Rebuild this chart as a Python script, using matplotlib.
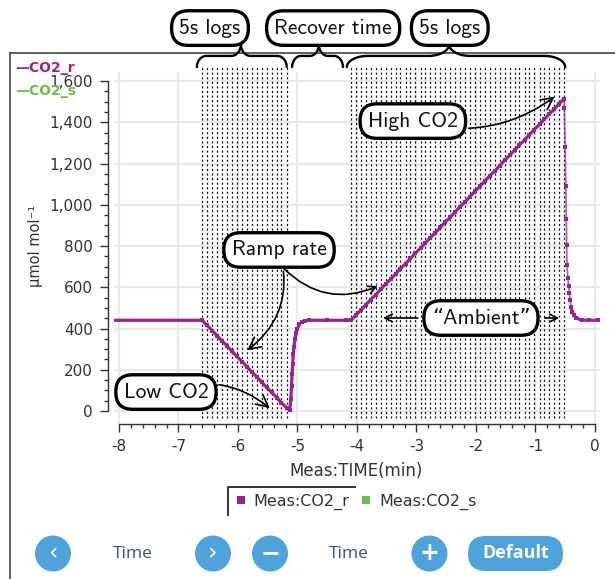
import numpy as np
import matplotlib
matplotlib.use("Agg")
import matplotlib.pyplot as plt
from matplotlib.patches import Circle, FancyBboxPatch, PathPatch
from matplotlib.path import Path
from matplotlib.lines import Line2D
from matplotlib.ticker import FixedLocator, FuncFormatter

plt.rcParams['axes.unicode_minus'] = False
plt.rcParams['lines.scale_dashes'] = False

PURPLE = '#9b2391'
GREEN = '#6cbf47'
BLUE = '#4fa3dc'
INK = '#333333'

# ---- Meas:CO2_r readings: time (min) and CO2 (umol mol-1) ----
baseline_time = [-8.08, -7.60, -7.10, -6.68]
baseline_co2 = [440, 440, 440, 440]

ramp_down_time = [-6.60, -6.52, -6.43, -6.35, -6.27, -6.18, -6.10, -6.02, -5.93,
                  -5.85, -5.77, -5.68, -5.60, -5.52, -5.43, -5.35, -5.27, -5.18]
ramp_down_co2 = [440, 415, 390, 365, 340, 315, 290, 265, 240,
                 215, 190, 165, 140, 115, 90, 65, 40, 15]

recovery_time = [-5.13, -5.11, -5.10, -5.09, -5.08, -5.07, -5.06, -5.04, -5.02,
                 -5.00, -4.97, -4.93, -4.88, -4.80, -4.50, -4.18]
recovery_co2 = [5, 60, 120, 180, 230, 275, 310, 350, 380,
                400, 420, 432, 438, 440, 440, 440]

ramp_up_time = [-4.10, -4.02, -3.93, -3.85, -3.77, -3.68, -3.60, -3.52, -3.43, -3.35,
                -3.27, -3.18, -3.10, -3.02, -2.93, -2.85, -2.77, -2.68, -2.60, -2.52,
                -2.43, -2.35, -2.27, -2.18, -2.10, -2.02, -1.93, -1.85, -1.77, -1.68,
                -1.60, -1.52, -1.43, -1.35, -1.27, -1.18, -1.10, -1.02, -0.93, -0.85,
                -0.77, -0.68, -0.60, -0.52]
ramp_up_co2 = [440, 465, 490, 515, 540, 565, 590, 615, 640, 665,
               690, 715, 740, 765, 790, 815, 840, 865, 890, 915,
               940, 965, 990, 1015, 1040, 1065, 1090, 1115, 1140, 1165,
               1190, 1215, 1240, 1265, 1290, 1315, 1340, 1365, 1390, 1415,
               1440, 1465, 1490, 1515]

drop_time = [-0.515, -0.50, -0.49, -0.48, -0.475, -0.47, -0.455, -0.44, -0.43,
             -0.42, -0.40, -0.38, -0.35, -0.31, -0.22, -0.10, 0.05]
drop_co2 = [1470, 1280, 1090, 930, 805, 710, 645, 605, 570,
            540, 505, 480, 465, 450, 441, 440, 440]

# ---- Meas:CO2_s readings (no samples in this window) ----
co2_s_time = []
co2_s_co2 = []

series_names = ['Meas:CO2_r', 'Meas:CO2_s']
x_ticks = [-8, -7, -6, -5, -4, -3, -2, -1, 0]
y_ticks = [0, 200, 400, 600, 800, 1000, 1200, 1400, 1600]

W, H = 615, 579
fig = plt.figure(figsize=(W / 100, H / 100), dpi=100)

# pixel-space layer for the panel frame and the control buttons
ov = fig.add_axes([0, 0, 1, 1], zorder=0)
ov.set_xlim(0, W)
ov.set_ylim(H, 0)
ov.axis('off')

ax = fig.add_axes([113.6 / W, 155 / H, 486.4 / W, 352 / H], zorder=1)
ax.patch.set_alpha(0)
ax.set_xlim(-8.09, 0.085)
ax.set_ylim(-63, 1644)

for s in ('top', 'right'):
    ax.spines[s].set_visible(False)
ax.spines['left'].set_position(('outward', 4))
ax.spines['left'].set_bounds(y_ticks[0], y_ticks[-1])
ax.spines['bottom'].set_bounds(x_ticks[0], x_ticks[-1])
for s in ('left', 'bottom'):
    ax.spines[s].set_color(INK)
    ax.spines[s].set_linewidth(1.0)

ax.set_xticks(x_ticks)
ax.set_yticks(y_ticks)
ax.xaxis.set_minor_locator(FixedLocator(np.linspace(x_ticks[0], x_ticks[-1], 41)))
ax.yaxis.set_minor_locator(FixedLocator(np.linspace(y_ticks[0], y_ticks[-1], 33)))
ax.xaxis.set_major_formatter(FuncFormatter(lambda v, p: f"{int(round(v))}"))
ax.yaxis.set_major_formatter(FuncFormatter(lambda v, p: f"{int(round(v)):,}"))
ax.tick_params(which='major', length=6, width=1, color=INK, labelsize=11, labelcolor=INK)
ax.tick_params(which='minor', length=3, width=1, color=INK)
ax.tick_params(axis='y', which='major', pad=5)
ax.tick_params(axis='x', which='major', pad=5)
ax.grid(True, which='major', color='#e9e9e9', lw=1.6)
ax.set_axisbelow(True)

ax.set_xlabel('Meas:TIME(min)', fontsize=12, color=INK)
ax.xaxis.set_label_coords(0.499, -0.108)
ax.set_ylabel('µmol mol⁻¹', fontsize=10.5, color=INK)
ax.yaxis.set_label_coords(-0.145, 0.506)

# 5 s logging events
log_times = ramp_down_time + ramp_up_time
ax.vlines(log_times, -35, 1668, colors='#111111', lw=0.9,
          linestyles=[(0, (1.5, 1.8))], clip_on=False, zorder=2)

# CO2_r trace
t_all = np.array(baseline_time + ramp_down_time + recovery_time + ramp_up_time + drop_time)
v_all = np.array(baseline_co2 + ramp_down_co2 + recovery_co2 + ramp_up_co2 + drop_co2)
ax.plot(t_all, v_all, color=PURPLE, lw=1.2, alpha=0.75, zorder=4)
t_main = np.array(baseline_time + ramp_down_time + recovery_time + ramp_up_time)
v_main = np.array(baseline_co2 + ramp_down_co2 + recovery_co2 + ramp_up_co2)
ax.plot(t_main, v_main, color=PURPLE, lw=2.3, zorder=4, solid_capstyle='butt')
dt, dv = np.array(drop_time), np.array(drop_co2)
tail = dt >= -0.40
ax.plot(dt[tail], dv[tail], color=PURPLE, lw=2.3, zorder=4)
t_mk = np.array(ramp_down_time + recovery_time + ramp_up_time + drop_time)
v_mk = np.array(ramp_down_co2 + recovery_co2 + ramp_up_co2 + drop_co2)
ax.plot(t_mk, v_mk, 's', ms=3.2, mew=0, color=PURPLE, zorder=5)
ax.plot(co2_s_time, co2_s_co2, color=GREEN, lw=2)


def brace(x0, x1, xtip, w, y_end=1668, y_bar=1722, y_tip=1778, k=0.55):
    verts = [
        (x0, y_end),
        (x0, y_end + k * (y_bar - y_end)), (x0 + (1 - k) * w, y_bar), (x0 + w, y_bar),
        (xtip - w, y_bar),
        (xtip - (1 - k) * w, y_bar), (xtip, y_tip - k * (y_tip - y_bar)), (xtip, y_tip),
        (xtip, y_tip - k * (y_tip - y_bar)), (xtip + (1 - k) * w, y_bar), (xtip + w, y_bar),
        (x1 - w, y_bar),
        (x1 - (1 - k) * w, y_bar), (x1, y_end + k * (y_bar - y_end)), (x1, y_end),
    ]
    codes = [Path.MOVETO] + [Path.CURVE4] * 3 + [Path.LINETO] + [Path.CURVE4] * 6 \
        + [Path.LINETO] + [Path.CURVE4] * 3
    ax.add_patch(PathPatch(Path(verts, codes), fill=False, lw=1.7, ec='black',
                           clip_on=False, zorder=6, capstyle='round'))


brace(-6.69, -5.18, -5.95, 0.16)
brace(-5.09, -4.235, -4.64, 0.15)
brace(-4.17, -0.50, -2.45, 0.35)

BOX = dict(boxstyle='round,pad=0.36,rounding_size=0.78', fc='white', ec='black', lw=2.4)
FONT = dict(family=['cmss10', 'DejaVu Sans'], fontsize=15.5, color='#111111',
            ha='center', va='center', zorder=8)
ARW = dict(arrowstyle='->,head_length=0.55,head_width=0.28', lw=1.2, color='black')

for label, xc in (('5s logs', -6.47), ('Recover time', -4.40), ('5s logs', -2.44)):
    ax.text(xc, 1857, label, bbox=BOX, clip_on=False, **FONT)

ax.annotate('High CO2', xy=(-0.64, 1532), xytext=(-3.06, 1406), bbox=BOX,
            arrowprops=dict(connectionstyle='arc3,rad=0.25', **ARW),
            annotation_clip=False, **FONT)
ax.annotate('Ramp rate', xy=(-5.88, 286), xytext=(-5.31, 781), bbox=BOX,
            arrowprops=dict(connectionstyle='arc3,rad=-0.35', **ARW),
            annotation_clip=False, **FONT)
ax.annotate('', xy=(-3.61, 611), xytext=(-5.26, 700),
            arrowprops=dict(connectionstyle='arc3,rad=0.35', **ARW), zorder=7)
ax.annotate('Low CO2', xy=(-5.43, 5), xytext=(-7.21, 92), bbox=BOX,
            arrowprops=dict(connectionstyle='arc3,rad=-0.3', **ARW),
            annotation_clip=False, **FONT)
ax.text(-1.916, 451, '“Ambient”', bbox=BOX, **FONT)
ax.annotate('', xy=(-3.61, 451), xytext=(-2.93, 451), arrowprops=ARW, zorder=7)
ax.annotate('', xy=(-0.555, 451), xytext=(-0.89, 451), arrowprops=ARW, zorder=7)

# series key, top left
fig.text(15 / W, 1 - 68 / H, '—CO2_r', color=PURPLE, fontsize=10, fontweight='bold',
         va='center', ha='left', zorder=9)
fig.text(15 / W, 1 - 91 / H, '—CO2_s', color=GREEN, fontsize=10, fontweight='bold',
         va='center', ha='left', zorder=9)

# series legend below the axis
handles = [Line2D([], [], ls='none', marker='s', ms=6, mew=0, color=c) for c in (PURPLE, GREEN)]
leg = ax.legend(handles, series_names, loc='center', ncol=2, frameon=False,
                bbox_to_anchor=(356 / W, 1 - 502 / H), bbox_transform=fig.transFigure,
                fontsize=11.5, handlelength=0.7, handletextpad=0.45, columnspacing=0.7,
                borderaxespad=0)
for t in leg.get_texts():
    t.set_color(INK)
ov.plot([228, 228, 355], [515, 487, 487], color='#222222', lw=1.3)

# panel frame
ov.plot([10, 10], [H, 53], color='#444444', lw=1.2)
ov.plot([10, W], [53, 53], color='#444444', lw=1.2)

# time navigation controls
BTN_Y = 553.5
for xc, glyph, wt in ((53, '‹', 'normal'), (213, '›', 'normal'),
                      (270, '−', 'bold'), (429.5, '+', 'bold')):
    ov.add_patch(Circle((xc, BTN_Y), 18, color=BLUE, lw=0))
    ov.text(xc, BTN_Y, glyph, color='white', fontsize=17, fontweight=wt,
            ha='center', va='center', family='DejaVu Sans')
for xc in (133, 349):
    ov.text(xc, BTN_Y, 'Time', color='#3a5673', fontsize=12.5, ha='center', va='center',
            family='Open Sans')
ov.add_patch(FancyBboxPatch((468, BTN_Y - 17.5), 95, 35,
                            boxstyle='round,pad=0,rounding_size=17.5', color=BLUE, lw=0))
ov.text(515.5, BTN_Y, 'Default', color='white', fontsize=13, fontweight='bold',
        ha='center', va='center', family='Open Sans')

fig.savefig('out.png', dpi=100)
